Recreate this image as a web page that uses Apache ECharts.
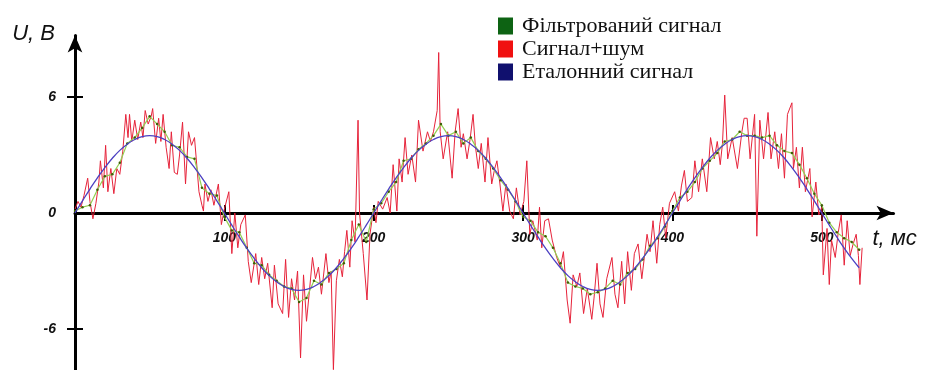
<!DOCTYPE html>
<html>
<head>
<meta charset="utf-8">
<script src="https://cdn.jsdelivr.net/npm/echarts@6/dist/echarts.min.js"></script>
<style>
  html, body { margin: 0; padding: 0; background: #ffffff; }
  #chart { width: 925px; height: 370px; }
</style>
</head>
<body>
<div id="chart"></div>
<script>
// Series names, as shown in the legend
const seriesNames = ['Фільтрований сигнал', 'Сигнал+шум', 'Еталонний сигнал'];

// Reference sine, sampled every 5 ms (U, V)
const refStep = 5;
const refU = [
  0, 0.63, 1.24, 1.82, 2.35, 2.83, 3.24, 3.56, 3.80, 3.95, 4.00, 3.95, 3.80, 3.56, 3.24, 2.83, 2.35, 1.82, 1.24, 0.63,
  0, -0.63, -1.24, -1.82, -2.35, -2.83, -3.24, -3.56, -3.80, -3.95, -4.00, -3.95, -3.80, -3.56, -3.24, -2.83, -2.35, -1.82, -1.24, -0.63,
  0, 0.63, 1.24, 1.82, 2.35, 2.83, 3.24, 3.56, 3.80, 3.95, 4.00, 3.95, 3.80, 3.56, 3.24, 2.83, 2.35, 1.82, 1.24, 0.63,
  0, -0.63, -1.24, -1.82, -2.35, -2.83, -3.24, -3.56, -3.80, -3.95, -4.00, -3.95, -3.80, -3.56, -3.24, -2.83, -2.35, -1.82, -1.24, -0.63,
  0, 0.63, 1.24, 1.82, 2.35, 2.83, 3.24, 3.56, 3.80, 3.95, 4.00, 3.95, 3.80, 3.56, 3.24, 2.83, 2.35, 1.82, 1.24, 0.63,
  0, -0.63, -1.24, -1.82, -2.35, -2.83
];

// Filtered signal, sampled every 5 ms
const filtStep = 5;
const filtU = [
  0.1, 0.3, 0.4, 1.2, 1.9, 2.0, 2.6, 3.6, 3.9, 4.4, 5.0, 4.6, 4.2, 3.5, 3.4, 2.9, 2.8, 1.3, 1.0, 0.9,
  -0.2, -0.9, -1.0, -1.8, -2.6, -2.7, -3.2, -3.5, -3.8, -3.9, -4.6, -4.4, -3.5, -3.7, -3.1, -2.9, -2.6, -1.4, -0.6, -1.5,
  0.2, 0.5, 1.1, 1.6, 2.7, 2.8, 3.3, 3.6, 4.0, 4.6, 4.0, 4.2, 3.6, 3.9, 3.2, 2.8, 2.3, 1.7, 1.2, 0.6,
  -0.2, -0.4, -1.0, -1.2, -1.8, -2.6, -3.6, -3.8, -3.9, -4.2, -4.1, -3.9, -3.5, -3.7, -3.1, -2.9, -2.4, -1.7, -1.3, -0.7,
  0.1, 0.8, 1.1, 1.6, 2.3, 2.7, 3.1, 3.7, 3.8, 4.2, 4.0, 4.0, 3.9, 4.0, 3.5, 3.2, 3.1, 2.5, 1.8, 1.0,
  0.4, -0.5, -1.0, -1.3, -1.5, -1.9
];

// Noisy signal samples: [t, ms ; U, V]
const noisySignal = [
  [0,0.2],[2,0.6],[4,0.3],[6,0.9],[8.5,1.8],[10,0.6],[12,-0.3],[14,0.5],[16,1.6],[17,2.7],
  [19,1.3],[20.5,3.5],[22,1.1],[24,2.3],[26,1.0],[28,2.3],[30,2.0],[32,3.2],[34,5.1],[35.5,3.9],
  [36.5,5.1],[38,3.7],[40,4.8],[42,3.8],[44,4.7],[45.5,3.9],[47,5.3],[49,4.6],[51,5.0],[52,5.4],
  [54,3.6],[56,4.9],[57.5,3.7],[59,5.1],[61,3.4],[63,2.3],[64.5,4.2],[66.5,2.1],[68.5,2.0],[70,3.0],
  [72,4.7],[74,1.5],[76,4.2],[78,3.5],[80,3.9],[83,1.1],[85,0.4],[86,0.1],[87,1.5],[89,0.6],
  [91,1.2],[93,0.4],[96,1.5],[98,-0.6],[100,0.2],[103,1.1],[105,-2.1],[107,0.0],[109,-1.8],[111,-0.6],
  [114,-0.1],[116,-2.5],[118,-3.6],[121,-2.1],[123,-3.7],[125,-2.3],[127,-3.4],[129,-2.6],[132,-4.9],[133.5,-2.7],
  [136,-4.7],[139,-5.2],[141,-2.4],[143,-5.4],[145,-3.4],[147,-4.5],[149,-3.0],[151,-7.5],[153,-3.2],[155,-5.6],
  [157,-4.0],[159,-2.3],[161,-3.4],[163,-2.8],[165,-4.2],[168,-2.1],[170,-3.6],[171.5,-3.0],[173,-8.1],[175,-3.5],
  [177,-2.4],[179,-3.3],[180.5,-2.0],[182,-0.9],[184,-2.8],[185.5,-0.4],[187.5,-1.5],[189.5,4.8],[190.5,0.0],[193,-2.1],
  [195.5,-4.5],[197.5,-1.1],[200,0.3],[201.5,-0.5],[203,0.6],[206,0.2],[209,0.8],[211,0.0],[213,2.5],[215.5,0.1],
  [217,2.8],[219,1.6],[221,3.9],[223,2.0],[225.5,3.0],[228,1.6],[230,4.8],[233,3.2],[236,4.2],[238,3.7],
  [240,4.2],[242.5,5.3],[243.5,8.3],[244.5,4.2],[246.5,2.8],[249.5,4.2],[252.5,1.8],[254.5,4.2],[256.5,5.4],[258.5,3.4],
  [260,4.1],[262.5,2.8],[264.5,3.8],[266.5,5.1],[268,3.5],[270,2.3],[272,3.6],[274.5,1.6],[276.5,3.9],[279,1.5],
  [281,2.3],[282.5,2.7],[284.5,1.5],[286.5,0.1],[288.5,1.5],[291,0.1],[293.5,-0.3],[295.5,1.3],[298,-0.1],[300.5,0.6],
  [302.5,2.7],[304.5,-1.1],[306.5,-0.4],[309.5,-1.4],[311,0.3],[312.5,-1.8],[314.5,-0.4],[317,-0.3],[319.5,-1.4],[322.5,-2.3],
  [325,-2.8],[327,-2.0],[329.5,-4.5],[331.5,-5.7],[333.5,-3.2],[336,-3.8],[338,-3.1],[340.5,-5.2],[343,-3.9],[346,-5.5],
  [347.5,-4.4],[349.5,-2.6],[351.5,-4.7],[353.5,-5.4],[356,-3.4],[359.5,-2.3],[361.5,-4.2],[363.5,-4.9],[366,-2.5],[368,-4.7],
  [370,-2.0],[372.5,-4.0],[374.5,-2.1],[377,-1.6],[379.5,-3.4],[383,-1.1],[385,-2.0],[387,-0.4],[389.5,-2.6],[391.5,-0.6],
  [393.5,0.3],[395.5,-1.3],[398,0.5],[401.5,1.1],[404,0.1],[406,1.4],[408,2.2],[410,0.6],[413,0.8],[415,2.7],
  [417.5,1.1],[420,2.8],[423,1.1],[425.5,3.9],[428,2.8],[430,3.7],[432,2.5],[433.5,3.6],[435,6.1],[437,2.8],
  [440,3.9],[443.5,2.3],[446.5,4.2],[448,4.9],[450,4.9],[452,2.8],[455,5.1],[456.5,-1.2],[458.5,4.8],[461,2.8],
  [464,5.2],[466,2.8],[468.5,4.2],[471,2.3],[473,4.1],[475,1.8],[477,5.1],[480,5.7],[481,2.3],[483,3.4],
  [485,1.3],[487,3.4],[489,1.1],[492,2.3],[493.5,-0.2],[496,1.6],[498,-0.1],[500,0.3],[501,-3.2],[503.5,-0.8],
  [505,-3.7],[506.5,-1.4],[509,-2.3],[511,-1.0],[513,-0.1],[515,-2.7],[517,-0.4],[519,-2.2],[521,-1.6],[523,-1.1],
  [524.5,-2.2],[525.5,-3.7],[527,-1.8]
];

// Axis ticks and labels
const xTickValues = [100, 200, 300, 400, 500];
const yTickValues = [-6, 6];
const yLabelValues = [-6, 0, 6];
const xAxisTitle = 't, мс';
const yAxisTitle = 'U, B';

const X_MIN = 0, X_MAX = 548;
const Y_MIN = -8.12, Y_MAX = 9.18;
const AXIS_FONT = "'Liberation Sans', Arial, sans-serif";

// Height of the plot area and distance from its bottom edge to U = 0;
// the time labels hang from the bottom edge, so they are pulled up by that distance.
const GRID_TOP = 35.5, GRID_BOTTOM = 0, CHART_H = 370;
const zeroToBottom = (CHART_H - GRID_TOP - GRID_BOTTOM) * (0 - Y_MIN) / (Y_MAX - Y_MIN);

const refData = refU.map((u, i) => [i * refStep, u]);
const filtData = filtU.map((u, i) => [i * filtStep, u]);

const tickLine = { color: '#000', width: 2 };
const labelStyle = {
  fontFamily: AXIS_FONT, fontStyle: 'italic', fontWeight: 'bold', fontSize: 14, color: '#111'
};

const chart = echarts.init(document.getElementById('chart'), null, { renderer: 'canvas' });

chart.setOption({
  animation: false,
  backgroundColor: '#ffffff',
  grid: { left: 75, right: 31.5, top: GRID_TOP, bottom: GRID_BOTTOM, containLabel: false, outerBoundsMode: 'none' },
  legend: {
    orient: 'vertical',
    left: 493,
    top: 10,
    itemWidth: 15,
    itemHeight: 17,
    itemGap: 1,
    icon: 'rect',
    selectedMode: false,
    textStyle: { fontFamily: "'Liberation Serif', 'Times New Roman', serif", fontSize: 22, color: '#111', padding: [0, 0, 0, 4] },
    data: [
      { name: seriesNames[0], itemStyle: { color: '#0d6313' } },
      { name: seriesNames[1], itemStyle: { color: '#f01010' } },
      { name: seriesNames[2], itemStyle: { color: '#10106e' } }
    ]
  },
  xAxis: [
    {
      type: 'value', min: X_MIN, max: X_MAX, position: 'bottom',
      axisLine: {
        onZero: true, symbol: ['none', 'arrow'], symbolSize: [11, 17],
        lineStyle: { color: '#000', width: 3 }
      },
      axisTick: { show: true, inside: false, length: 8, customValues: xTickValues, lineStyle: tickLine },
      axisLabel: Object.assign({ customValues: xTickValues, margin: 18 - zeroToBottom }, labelStyle),
      splitLine: { show: false },
      name: xAxisTitle, nameLocation: 'end', nameGap: -21,
      nameTextStyle: {
        fontFamily: AXIS_FONT, fontStyle: 'italic', fontSize: 22, color: '#111',
        align: 'left', verticalAlign: 'top', padding: [15, 0, 0, 0]
      }
    },
    {
      type: 'value', min: X_MIN, max: X_MAX, position: 'top',
      axisLine: { show: false, onZero: true },
      axisTick: { show: true, inside: false, length: 8, customValues: xTickValues, lineStyle: tickLine },
      axisLabel: { show: false },
      splitLine: { show: false }
    }
  ],
  yAxis: [
    {
      type: 'value', min: Y_MIN, max: Y_MAX, position: 'left',
      axisLine: {
        onZero: true, symbol: ['none', 'arrow'], symbolSize: [11, 17],
        lineStyle: { color: '#000', width: 3 }
      },
      axisTick: { show: true, inside: false, length: 8, customValues: yTickValues, lineStyle: tickLine },
      axisLabel: Object.assign({ customValues: yLabelValues, margin: 19 }, labelStyle),
      splitLine: { show: false },
      name: yAxisTitle, nameLocation: 'end', nameGap: 2,
      nameTextStyle: {
        fontFamily: AXIS_FONT, fontStyle: 'italic', fontSize: 22, color: '#111',
        align: 'right', verticalAlign: 'middle', padding: [0, 20, 0, 0]
      }
    },
    {
      type: 'value', min: Y_MIN, max: Y_MAX, position: 'right',
      axisLine: { show: false, onZero: true },
      axisTick: { show: true, inside: false, length: 8, customValues: yTickValues, lineStyle: tickLine },
      axisLabel: { show: false },
      splitLine: { show: false }
    }
  ],
  series: [
    {
      name: seriesNames[1], type: 'line', data: noisySignal,
      showSymbol: false, z: 2,
      itemStyle: { color: '#f01010' },
      lineStyle: { color: '#e6233a', width: 1 }
    },
    {
      name: seriesNames[0], type: 'line', data: filtData,
      symbol: 'circle', symbolSize: 2.5, showSymbol: true, z: 3,
      itemStyle: { color: '#3f5c07' },
      lineStyle: { color: '#92cf52', width: 1.2 }
    },
    {
      name: seriesNames[2], type: 'line', data: refData,
      smooth: true, showSymbol: false, z: 4,
      itemStyle: { color: '#10106e' },
      lineStyle: { color: '#4c40c2', width: 1.3 }
    }
  ]
});
</script>
</body>
</html>
